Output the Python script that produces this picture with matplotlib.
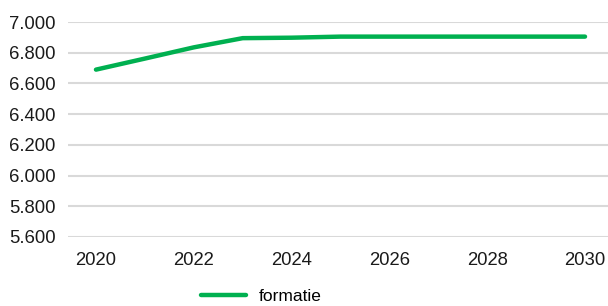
import matplotlib
matplotlib.use("Agg")
import matplotlib.pyplot as plt
from matplotlib.ticker import FuncFormatter

years = [2020, 2021, 2022, 2023, 2024, 2025, 2026, 2027, 2028, 2029, 2030]
formatie = [6690, 6762, 6835, 6895, 6898, 6905, 6905, 6905, 6905, 6905, 6905]

plt.rcParams['font.family'] = ['Liberation Sans', 'DejaVu Sans']

fig = plt.figure(figsize=(6.08, 3.06), dpi=100)
ax = fig.add_axes([0.112, 0.2255, 0.888, 0.7025])

ax.plot(years, formatie, color='#00b050', linewidth=3.2, solid_capstyle='round',
        solid_joinstyle='round', label='formatie')

ax.set_xlim(2019.43, 2030.47)
ax.set_ylim(5600, 7000)
ax.set_xticks(range(2020, 2031, 2))
ax.set_yticks(range(5600, 7001, 200))
ax.yaxis.set_major_formatter(FuncFormatter(lambda v, p: f"{int(v):,}".replace(",", ".")))

ax.grid(axis='y', color='#d9d9d9', linewidth=1.5)
ax.set_axisbelow(True)
for s in ax.spines.values():
    s.set_visible(False)
ax.tick_params(length=0, labelsize=13.3, colors='#1a1a1a')
ax.tick_params(axis='y', pad=9)
ax.tick_params(axis='x', pad=11)

fig.legend(loc='center', bbox_to_anchor=(0.43, 0.03), frameon=False, fontsize=12.5,
           handlelength=2.6, handletextpad=0.7)

fig.savefig('out.png', dpi=100)
